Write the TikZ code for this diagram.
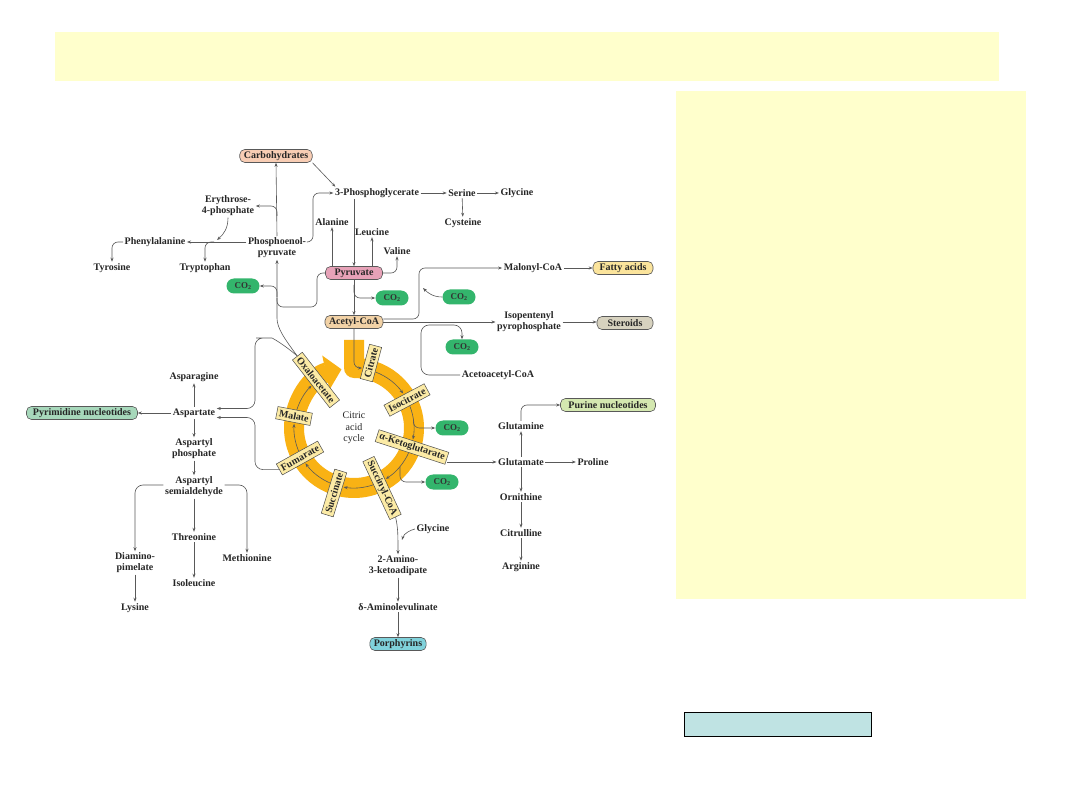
\documentclass[tikz,border=0pt]{standalone}
\usepackage{fontspec}
\setmainfont{Liberation Serif}
\usetikzlibrary{arrows.meta}
\definecolor{mPanel}{HTML}{FFFFCC}
\definecolor{mCarb}{HTML}{F8CDB4}
\definecolor{mPyr}{HTML}{E7A2B8}
\definecolor{mAcoa}{HTML}{F2D2A6}
\definecolor{mFat}{HTML}{FBE49C}
\definecolor{mSter}{HTML}{D7D2BF}
\definecolor{mPur}{HTML}{D4E8B0}
\definecolor{mPyrim}{HTML}{A7D8BB}
\definecolor{mPorph}{HTML}{80D2DB}
\definecolor{mCotwo}{HTML}{33B56C}
\definecolor{mRing}{HTML}{F9B214}
\definecolor{mCyc}{HTML}{FCEBA6}
\definecolor{mNote}{HTML}{BFE3E3}
\tikzset{
  mtx/.style={font=\fontsize{10}{11}\selectfont\bfseries, text=black!85,
              inner sep=1.5pt, align=center},
  mbox/.style={mtx, rounded corners=5pt, draw=black!65, line width=0.6pt,
               minimum height=13pt, inner xsep=4pt, inner ysep=1pt},
  mcyc/.style={mtx, draw=black!70, line width=0.5pt, fill=mCyc,
               minimum height=12.5pt, inner xsep=2.5pt, inner ysep=1pt},
  mco/.style={mtx, font=\fontsize{9}{10}\selectfont\bfseries, fill=mCotwo,
              rounded corners=7.5pt, minimum width=33pt, minimum height=15pt,
              inner sep=0pt, text=black!80},
  mln/.style={draw=black!65, line width=0.6pt, rounded corners=6pt},
  mar/.style={mln, -{Stealth[length=4pt,width=3pt]}},
  mring/.style={draw=mRing, line width=20pt, line join=round,
                -{Triangle[width=34pt,length=16pt]}},
}

\begin{document}
\begin{tikzpicture}[x=1pt,y=-1pt]
  \useasboundingbox (0,0) rectangle (1080,810);
  \fill[white] (0,0) rectangle (1080,810);
  % panels
  \fill[mPanel] (55,32) rectangle (999,81);
  \fill[mPanel] (676,91) rectangle (1026,599);
  \draw[fill=mNote, line width=1pt] (684,712) rectangle (871,736);

  % upper part
  \node[mbox, fill=mCarb] (carb) at (276,156) {Carbohydrates};
  \node[mtx] (pgly) at (377,193) {3-Phosphoglycerate};
  \node[mtx] (ser) at (462,193) {Serine};
  \node[mtx] (glya) at (517,193) {Glycine};
  \node[mtx] (cys) at (463,223) {Cysteine};
  \node[mtx] (ery) at (228,206) {Erythrose-\\4-phosphate};
  \node[mtx] (phe) at (155,242) {Phenylalanine};
  \node[mtx] (pep) at (277,248) {Phosphoenol-\\pyruvate};
  \node[mtx] (tyr) at (112,268) {Tyrosine};
  \node[mtx] (trp) at (205,268) {Tryptophan};
  \node[mtx] (ala) at (332,222) {Alanine};
  \node[mtx] (leu) at (372,232) {Leucine};
  \node[mtx] (val) at (397,251) {Valine};
  \node[mbox, fill=mPyr, minimum width=57pt] (pyr) at (354,273) {Pyruvate};
  \node[mbox, fill=mAcoa, minimum width=57pt] (acoa) at (354,322) {Acetyl-CoA};
  \node[mtx] (mal) at (533,268) {Malonyl-CoA};
  \node[mbox, fill=mFat, minimum width=60pt] (fat) at (623,268) {Fatty acids};
  \node[mtx] (ipp) at (529,322) {Isopentenyl\\pyrophosphate};
  \node[mbox, fill=mSter, minimum width=56pt] (ster) at (625,323) {Steroids};
  \node[mtx] (aca) at (498,375) {Acetoacetyl-CoA};
  \node[mco] (coa) at (243,286) {CO\textsubscript{2}};
  \node[mco] (cob) at (392,298) {CO\textsubscript{2}};
  \node[mco] (coc) at (459,297) {CO\textsubscript{2}};
  \node[mco] (cod) at (462,347) {CO\textsubscript{2}};

  % citric acid cycle
  \coordinate (cyc) at (354,428);
  \draw[mring] (354,340) -- (354,368) arc[start angle=-90, end angle=258, radius=60];
  \draw[mar] (acoa.south) |- (362,368);
  \foreach \a/\b in {-69/-35,-22/11,24/58,71/100,113/144,157/184,197/225}
    \draw[mar] (cyc) ++(\a:60) arc[start angle=\a, end angle=\b, radius=60];
  \node[mtx, font=\fontsize{10}{11.5}\selectfont] (cyctx) at (cyc) {Citric\\acid\\cycle};
  \node[mcyc, rotate=75] (cit) at (371,363) {Citrate};
  \node[mcyc, rotate=28] (icit) at (407,400) {Isocitrate};
  \node[mcyc, rotate=-18] (akg) at (412,447) {α-Ketoglutarate};
  \node[mcyc, rotate=-65] (scoa) at (382,488) {Succinyl-CoA};
  \node[mcyc, rotate=73] (succ) at (334,493) {Succinate};
  \node[mcyc, rotate=29] (fum) at (300,458) {Fumarate};
  \node[mcyc, rotate=-11] (mala) at (294,416) {Malate};
  \node[mcyc, rotate=-52] (oxa) at (316,380) {Oxaloacetate};
  \node[mco] (coe) at (452,428) {CO\textsubscript{2}};
  \node[mco] (cof) at (442,482) {CO\textsubscript{2}};

  % lower part
  \node[mtx] (asn) at (194,377) {Asparagine};
  \node[mtx] (asp) at (194,413) {Aspartate};
  \node[mbox, fill=mPyrim, minimum width=111pt] (pyrim) at (82,413) {Pyrimidine nucleotides};
  \node[mtx] (asph) at (194,449) {Aspartyl\\phosphate};
  \node[mtx] (assa) at (194,487) {Aspartyl\\semialdehyde};
  \node[mtx] (dap) at (135,563) {Diamino-\\pimelate};
  \node[mtx] (thr) at (194,537) {Threonine};
  \node[mtx] (met) at (247,558) {Methionine};
  \node[mtx] (ile) at (194,583) {Isoleucine};
  \node[mtx] (lys) at (135,608) {Lysine};
  \node[mtx] (glyb) at (433,529) {Glycine};
  \node[mtx] (amk) at (398,566) {2-Amino-\\3-ketoadipate};
  \node[mtx] (ala5) at (398,607) {δ-Aminolevulinate};
  \node[mbox, fill=mPorph] (por) at (398,644) {Porphyrins};
  \node[mtx] (gln) at (521,426) {Glutamine};
  \node[mbox, fill=mPur, minimum width=95pt] (pur) at (608,405) {Purine nucleotides};
  \node[mtx] (glu) at (521,462) {Glutamate};
  \node[mtx] (pro) at (593,462) {Proline};
  \node[mtx] (orn) at (521,497) {Ornithine};
  \node[mtx] (citr) at (521,533) {Citrulline};
  \node[mtx] (arg) at (521,567) {Arginine};

  % connectors, upper part
  \draw[mar] (carb.south east) -- ([xshift=2pt]pgly.north west);
  \draw[mar] (pep.north) -- (carb.south);
  \coordinate (e4br) at (277,216);
  \draw[mar] (e4br) |- (ery.east);
  \coordinate (e4in) at (217,240);
  \draw[mar] (ery.south) .. controls (228,228) and (224,234) .. (e4in);
  \draw[mar] (pep.west |- phe) -- (phe.east);
  \coordinate (trbr) at (214,242);
  \draw[mar] (trbr) -| (trp.north);
  \draw[mar] (phe.west) -| (tyr.north);
  \draw[mar] (pep.east |- phe) -| (313,215) |- (pgly.west);
  \draw[mar] (pgly) -- (ser);
  \draw[mar] (ser) -- (glya);
  \draw[mar] (ser) -- (cys);
  \draw[mar] (pgly.south -| pyr.north) -- (pyr.north);
  \draw[mar] (pyr.north -| ala) -- (ala);
  \draw[mar] (pyr.north -| leu) -- (leu);
  \draw[mar] (pyr.east) -| (val.south);
  \draw[mar] (pyr) -- (acoa);
  \coordinate (cobr) at (354,285);
  \draw[mar] (cobr) |- (cob.west);
  \draw[mar] (oxa.west) .. controls (284,338) and (277,328) .. (277,312) -- (pep.south);
  \draw[mln] (pyr.west) -| (317,307) -| (277,298);
  \coordinate (cabr) at (277,297);
  \draw[mar] (cabr) |- (coa.east);
  \draw[mar] ([yshift=3pt]acoa.east) -| (419,285) |- (mal.west);
  \coordinate (mjn) at (423,288);
  \draw[mar] (coc.west) .. controls (433,297) and (428,293) .. (mjn);
  \draw[mar] (mal) -- (fat);
  \draw[mar] (acoa.east) -- (ipp.west |- acoa.east);
  \draw[mar] (ipp.east) -- (ster.west |- ipp.east);
  \draw[mar, rounded corners=8pt] (aca.west) -| (421,325) -| (cod.north);

  % connectors, cycle
  \path (cyc) ++(-8:60) coordinate (cebr);
  \draw[mar] (cebr) |- (coe.west);
  \path (cyc) ++(40:60) coordinate (cfbr);
  \draw[mar] (cfbr) |- (cof.west);
  \draw[mar] (akg.east |- glu) -- (glu);
  \draw[mar, rounded corners=8pt] (oxa.west) .. controls (282,343) and (272,338) .. (264,338)
    -| (255,380) |- ([yshift=4.5pt]asp.east);
  \draw[mar, rounded corners=8pt] (fum.west) -| (255,440) |- ([yshift=-4.5pt]asp.east);
  \draw[mar] (scoa.east) .. controls (398,528) and (398,535) .. (amk.north);
  \coordinate (gyin) at (402,540);
  \draw[mar] (glyb.west) .. controls (411,530) and (404,533) .. (gyin);
  \draw[mar] (amk) -- (ala5);
  \draw[mar] (ala5) -- (por);

  % connectors, lower part
  \draw[mar] (asp) -- (asn);
  \draw[mar] (asp) -- (pyrim);
  \draw[mar] (asp) -- (asph);
  \draw[mar] (asph) -- (assa);
  \draw[mar, rounded corners=8pt] ([yshift=2pt]assa.west) -| (dap.north);
  \draw[mar, rounded corners=8pt] ([yshift=2pt]assa.east) -| (met.north);
  \draw[mar] (assa) -- (thr);
  \draw[mar] (thr) -- (ile);
  \draw[mar] (dap) -- (lys);
  \draw[mar] (glu) -- (pro);
  \draw[mar] (glu) -- (gln);
  \draw[mar] (gln.north) |- (pur.west);
  \draw[mar] (glu) -- (orn);
  \draw[mar] (orn) -- (citr);
  \draw[mar] (citr) -- (arg);
\end{tikzpicture}
\end{document}
